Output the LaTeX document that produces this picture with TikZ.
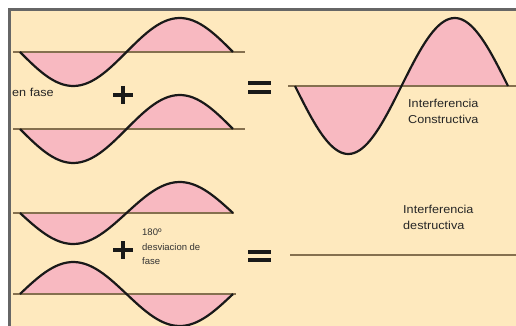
\documentclass[tikz,border=0pt]{standalone}
\usepackage{fontspec}
\setmainfont{Liberation Sans}
\newfontfamily\widefont{Liberation Sans}[FakeStretch=1.1]
\usepackage{tikz}
\definecolor{paper}{HTML}{FEE9BE}
\definecolor{lobe}{HTML}{F8B9C1}
\definecolor{axisbrown}{HTML}{85704F}
\definecolor{frame}{HTML}{666666}

\begin{document}
\begin{tikzpicture}[x=1pt, y=-1pt,
    lobefill/.style={fill=lobe},
    wave/.style={line width=2.2pt, black!90},
    axisline/.style={line width=1.5pt, axisbrown},
    sign/.style={line width=3.4pt, black!90},
    lbl/.style={font=\widefont\fontsize{11.5}{16}\selectfont, text=black!85, inner sep=0pt, anchor=base west},
    small/.style={font=\fontsize{9.5}{14}\selectfont, text=black!80, inner sep=0pt, anchor=base west}]
        % Paper and frame
        \fill[white] (0,0) rectangle (516,326);
        \useasboundingbox (0,0) rectangle (516,326);
        \fill[paper] (9,10) rectangle (516,326);
        \draw[frame, line width=3pt] (9,326) -- (9,10) -- (516,10);

        % Four small waves on the left: axis height / amplitude
        \foreach \yy/\amp/\xe in {52/34/245, 129/34/245, 213/31/234, 294/-32/236} {
            \fill[lobefill] plot[domain=0:213, samples=60]
                ({20+\x}, {\yy+\amp*sin(\x*1.6901)}) -- cycle;
            \draw[axisline] (13,\yy) -- (\xe,\yy);
            \draw[wave] plot[domain=0:213, samples=60]
                ({20+\x}, {\yy+\amp*sin(\x*1.6901)});
        }

        % Big wave (constructive)
        \fill[lobefill] plot[domain=0:213, samples=80]
            ({295+\x}, {86+68*sin(\x*1.6901)}) -- cycle;
        \draw[axisline] (288,86) -- (516,86);
        \draw[wave] plot[domain=0:213, samples=80]
            ({295+\x}, {86+68*sin(\x*1.6901)});

        % Flat result (destructive)
        \draw[axisline, line width=2pt] (290,255) -- (516,255);

        % Plus and equals signs
        \draw[sign] (113,95) -- (133,95) (123,86) -- (123,104);
        \draw[sign] (113,250) -- (133,250) (123,241) -- (123,259);
        \draw[sign] (248,83) -- (271,83) (248,92) -- (271,92);
        \draw[sign] (248,252) -- (271,252) (248,260) -- (271,260);

        % Labels
        \node[lbl] (enfase) at (12,97) {en fase};
        \node[lbl] (cons1) at (408,107) {Interferencia};
        \node[lbl] (cons2) at (408,124) {Constructiva};
        \node[lbl] (dest1) at (403,213) {Interferencia};
        \node[lbl] (dest2) at (403,229) {destructiva};
        \node[small] (grad) at (142,235) {180º};
        \node[small] (desv) at (142,250) {desviacion de};
        \node[small] (fase) at (142,264) {fase};
\end{tikzpicture}
\end{document}
